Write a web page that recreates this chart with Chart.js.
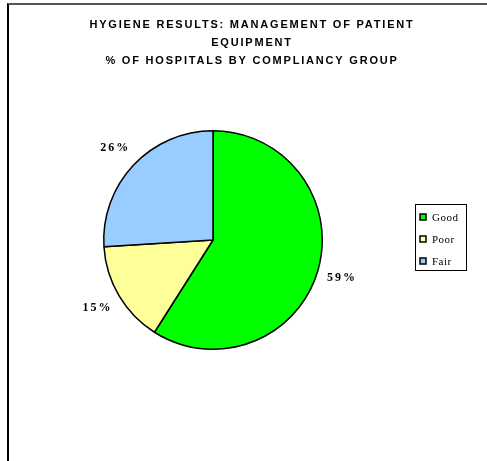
<!DOCTYPE html>
<html lang="en">

<head>
    <meta charset="UTF-8">
    <title>Hygiene Results</title>
    <script src="https://cdn.jsdelivr.net/npm/chart.js@4.4.0/dist/chart.umd.min.js"></script>
    <style>
        body {
            margin: 0;
            background: #fff;
            overflow: hidden;
        }

        #frame {
            position: absolute;
            left: 7px;
            top: 3px;
            width: 600px;
            height: 600px;
            border-left: 2px solid #000;
            border-top: 2px solid #555;
        }

        #wrap {
            position: absolute;
            left: 0;
            top: 0;
            width: 487px;
            height: 461px;
        }
    </style>
</head>

<body>
    <div id="frame"></div>
    <div id="wrap"><canvas id="pie"></canvas></div>
    <script>
        // chart values
        const categories = ['Good', 'Poor', 'Fair'];
        const percentages = [59, 15, 26];
        const titleLines = [
            'HYGIENE RESULTS: MANAGEMENT OF PATIENT',
            'EQUIPMENT',
            '% OF HOSPITALS BY COMPLIANCY GROUP'
        ];

        const sliceColors = ['#00ff00', '#ffff99', '#99ccff'];

        // title, slice labels and legend box drawn on top of the pie
        const decorations = {
            id: 'decorations',
            afterDraw(chart) {
                const ctx = chart.ctx;
                ctx.save();

                // title
                ctx.fillStyle = '#000';
                ctx.font = 'bold 11px "Liberation Sans", Arial, sans-serif';
                ctx.letterSpacing = '1.8px';
                ctx.textAlign = 'center';
                ctx.textBaseline = 'middle';
                titleLines.forEach((line, i) => {
                    ctx.fillText(line, 252, 25 + i * 18);
                });

                // percentage labels, just outside each slice
                const meta = chart.getDatasetMeta(0);
                ctx.font = 'bold 12px "Liberation Serif", "Times New Roman", serif';
                ctx.letterSpacing = '2px';
                meta.data.forEach((arc, i) => {
                    const mid = (arc.startAngle + arc.endAngle) / 2;
                    const r = arc.outerRadius + 25;
                    const x = arc.x + Math.cos(mid) * r;
                    const y = arc.y + Math.sin(mid) * r;
                    ctx.fillText(percentages[i] + '%', x, y);
                });

                // legend
                ctx.letterSpacing = '0.5px';
                ctx.strokeStyle = '#000';
                ctx.lineWidth = 1;
                ctx.strokeRect(415.5, 204.5, 51, 66);
                ctx.font = '11px "Liberation Serif", "Times New Roman", serif';
                ctx.textAlign = 'left';
                categories.forEach((name, i) => {
                    const y = 217 + i * 22;
                    ctx.fillStyle = sliceColors[i];
                    ctx.fillRect(420, y - 3, 6, 6);
                    ctx.lineWidth = 1.5;
                    ctx.strokeRect(420, y - 3, 6, 6);
                    ctx.fillStyle = '#000';
                    ctx.fillText(name, 432, y + 1);
                });

                ctx.restore();
            }
        };

        const config = {
            type: 'pie',
            data: {
                labels: categories,
                datasets: [{
                    data: percentages,
                    backgroundColor: sliceColors,
                    borderColor: '#000',
                    borderWidth: 1.5
                }]
            },
            options: {
                responsive: true,
                maintainAspectRatio: false,
                animation: false,
                layout: {
                    padding: { left: 103, right: 164, top: 130, bottom: 111 }
                },
                plugins: {
                    legend: { display: false },
                    tooltip: { enabled: false }
                }
            },
            plugins: [decorations]
        };

        const ctx = document.getElementById('pie').getContext('2d');
        const pieChart = new Chart(ctx, config);
    </script>
</body>

</html>
